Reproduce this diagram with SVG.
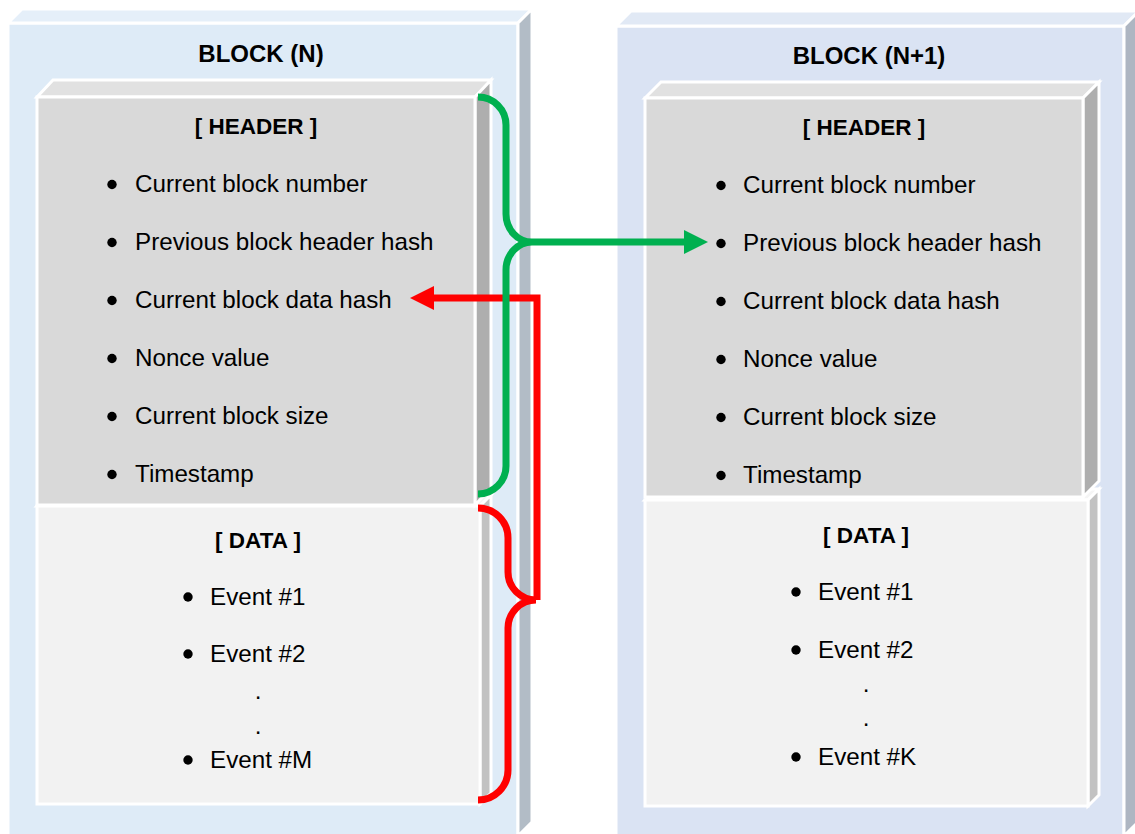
<svg xmlns="http://www.w3.org/2000/svg" width="1135" height="834" viewBox="0 0 1135 834">
  <style>
    .face { stroke: #FFFFFF; stroke-width: 3; stroke-linejoin: miter; }
    .outerA-front { fill: #DEEBF7; }
    .outerA-top { fill: #E5EFF9; }
    .outerA-side { fill: #B2BCC6; }
    .outerB-front { fill: #DAE3F3; }
    .outerB-top { fill: #E1E9F5; }
    .outerB-side { fill: #AEB6C2; }
    .hdr-front { fill: #D9D9D9; }
    .hdr-top { fill: #E1E1E1; }
    .hdr-side { fill: #AEAEAE; }
    .dat-front { fill: #F2F2F2; }
    .dat-top { fill: #F5F5F5; }
    .dat-side { fill: #C2C2C2; }
    text { font-family: "Liberation Sans", Arial, sans-serif; fill: #000000; }
    .title { font-size: 24px; font-weight: bold; text-anchor: middle; }
    .section { font-size: 22.5px; font-weight: bold; text-anchor: middle; }
    .item { font-size: 24.2px; }
    .dot { font-size: 24.2px; text-anchor: middle; }
    .bullet { fill: #000000; }
    .green { fill: none; stroke: #00B050; stroke-width: 7; }
    .red { fill: none; stroke: #FF0000; stroke-width: 7; }
    .green-head { fill: #00B050; }
    .red-head { fill: #FF0000; }
  </style>

  <!-- Block N container -->
  <g id="block-n">
    <rect class="face outerA-front" x="8" y="23" width="510" height="813"/>
    <polygon class="face outerA-top" points="8,23 22,9 532,9 518,23"/>
    <polygon class="face outerA-side" points="518,23 532,9 532,822 518,836"/>
    <text class="title" x="261" y="62">BLOCK (N)</text>
  </g>

  <!-- Block N data section -->
  <g id="block-n-data">
    <polygon class="face dat-top" points="37,506 48,495 491,495 480,506"/>
    <polygon class="face dat-side" points="480,506 491,495 491,793 480,804"/>
    <rect class="face dat-front" x="37" y="506" width="443" height="298"/>
    <text class="section" x="258" y="548">[ DATA ]</text>
    <circle class="bullet" cx="188" cy="597" r="4.7"/>
    <text class="item" x="210" y="605">Event #1</text>
    <circle class="bullet" cx="188" cy="654" r="4.7"/>
    <text class="item" x="210" y="662">Event #2</text>
    <text class="dot" x="258" y="699">.</text>
    <text class="dot" x="258" y="734">.</text>
    <circle class="bullet" cx="188" cy="760" r="4.7"/>
    <text class="item" x="210" y="768">Event #M</text>
  </g>

  <!-- Block N header section -->
  <g id="block-n-header">
    <polygon class="face hdr-top" points="37,97 53,80 491,80 475,97"/>
    <polygon class="face hdr-side" points="475,97 491,80 491,488 475,505"/>
    <rect class="face hdr-front" x="37" y="97" width="438" height="408"/>
    <text class="section" x="256" y="134">[ HEADER ]</text>
    <circle class="bullet" cx="112" cy="184.5" r="4.7"/>
    <text class="item" x="135" y="192">Current block number</text>
    <circle class="bullet" cx="112" cy="242.5" r="4.7"/>
    <text class="item" x="135" y="250">Previous block header hash</text>
    <circle class="bullet" cx="112" cy="300.5" r="4.7"/>
    <text class="item" x="135" y="308">Current block data hash</text>
    <circle class="bullet" cx="112" cy="358.5" r="4.7"/>
    <text class="item" x="135" y="366">Nonce value</text>
    <circle class="bullet" cx="112" cy="416.5" r="4.7"/>
    <text class="item" x="135" y="424">Current block size</text>
    <circle class="bullet" cx="112" cy="474.5" r="4.7"/>
    <text class="item" x="135" y="482">Timestamp</text>
  </g>

  <!-- Block N+1 container -->
  <g id="block-n1">
    <rect class="face outerB-front" x="616" y="26" width="508" height="810"/>
    <polygon class="face outerB-top" points="616,26 631,11 1139,11 1124,26"/>
    <polygon class="face outerB-side" points="1124,26 1139,11 1139,821 1124,836"/>
    <text class="title" x="869" y="64">BLOCK (N+1)</text>
  </g>

  <!-- Block N+1 data section -->
  <g id="block-n1-data">
    <polygon class="face dat-top" points="645,500 656,489 1099,489 1088,500"/>
    <polygon class="face dat-side" points="1088,500 1099,489 1099,795 1088,806"/>
    <rect class="face dat-front" x="645" y="500" width="443" height="306"/>
    <text class="section" x="866" y="543">[ DATA ]</text>
    <circle class="bullet" cx="796" cy="592" r="4.7"/>
    <text class="item" x="818" y="600">Event #1</text>
    <circle class="bullet" cx="796" cy="650" r="4.7"/>
    <text class="item" x="818" y="658">Event #2</text>
    <text class="dot" x="866" y="692">.</text>
    <text class="dot" x="866" y="726">.</text>
    <circle class="bullet" cx="796" cy="757" r="4.7"/>
    <text class="item" x="818" y="765">Event #K</text>
  </g>

  <!-- Block N+1 header section -->
  <g id="block-n1-header">
    <polygon class="face hdr-top" points="645,98 661,82 1099,82 1083,98"/>
    <polygon class="face hdr-side" points="1083,98 1099,82 1099,481 1083,497"/>
    <rect class="face hdr-front" x="645" y="98" width="438" height="399"/>
    <text class="section" x="864" y="135">[ HEADER ]</text>
    <circle class="bullet" cx="721" cy="185.5" r="4.7"/>
    <text class="item" x="743" y="193">Current block number</text>
    <circle class="bullet" cx="721" cy="243.5" r="4.7"/>
    <text class="item" x="743" y="251">Previous block header hash</text>
    <circle class="bullet" cx="721" cy="301.5" r="4.7"/>
    <text class="item" x="743" y="309">Current block data hash</text>
    <circle class="bullet" cx="721" cy="359.5" r="4.7"/>
    <text class="item" x="743" y="367">Nonce value</text>
    <circle class="bullet" cx="721" cy="417.5" r="4.7"/>
    <text class="item" x="743" y="425">Current block size</text>
    <circle class="bullet" cx="721" cy="475.5" r="4.7"/>
    <text class="item" x="743" y="483">Timestamp</text>
  </g>

  <!-- Connectors: data brace feeds the data hash, header brace feeds the next block -->
  <g id="connectors">
    <path class="red" d="M478,508 A30,30 0 0 1 508,538 L508,572 A28,28 0 0 0 536,600 A28,28 0 0 0 508,628 L508,770 A30,30 0 0 1 478,800"/>
    <path class="red" d="M537,600 L537,298 L430,298"/>
    <polygon class="red-head" points="434,286 410,298 434,310"/>

    <path class="green" d="M478,97 A28,28 0 0 1 506,125 L506,214 A26,28 0 0 0 532,242 A26,28 0 0 0 506,270 L506,466 A28,28 0 0 1 478,494"/>
    <path class="green" d="M532,242 L688,242"/>
    <polygon class="green-head" points="684,230 708,242 684,254"/>
  </g>
</svg>
